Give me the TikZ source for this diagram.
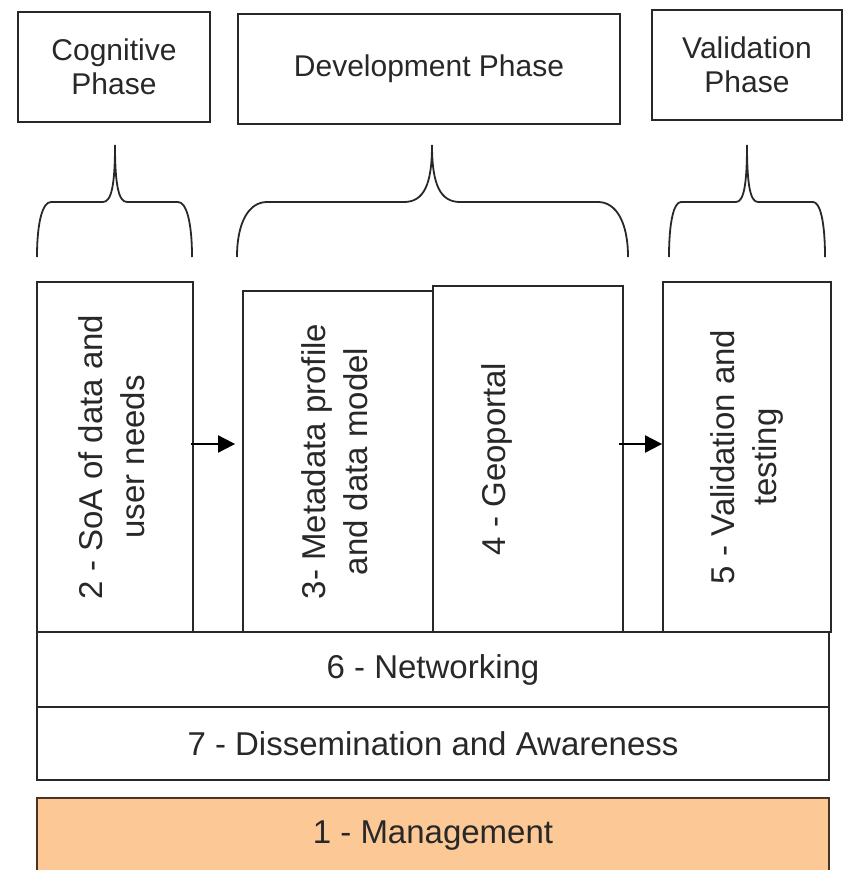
\documentclass[tikz,border=0pt]{standalone}
\usepackage{fontspec}
\usepackage{graphicx}
\setmainfont{Liberation Sans}
\usetikzlibrary{arrows.meta}

\definecolor{inkgray}{RGB}{40,40,40}
\definecolor{mgmtfill}{RGB}{251,200,150}
\definecolor{mgmtline}{RGB}{75,50,35}

\tikzstyle{phasebox}=[draw=inkgray,line width=1.8pt,text=inkgray,font=\fontsize{30}{34}\selectfont,align=center,minimum height=110pt,inner sep=0pt]
\tikzstyle{wpbox}=[draw=inkgray,line width=1.8pt,text=inkgray,font=\fontsize{33}{42}\selectfont,inner sep=0pt]
\tikzstyle{mgmtbox}=[wpbox,draw=mgmtline,fill=mgmtfill]
\tikzstyle{flow}=[draw=black,line width=2pt,-{Triangle[length=17pt,width=17pt]}]
\tikzstyle{bracket}=[draw=inkgray,line width=1.8pt]

% rotated two-line label
\newcommand{\vtext}[1]{\rotatebox{90}{\begin{tabular}{@{}c@{}}#1\end{tabular}}}
% left x, tip x, right x, corner, tip half width
\newcommand{\phasebrace}[5]{%
  \path[bracket] (#1,257) .. controls (#1,222) and ({#1+0.4*#4},202) .. ({#1+#4},202)
    -- ({#2-#5},202) .. controls ({#2-0.3*#5},202) and (#2,185) .. (#2,145)
    .. controls (#2,185) and ({#2+0.3*#5},202) .. ({#2+#5},202)
    -- ({#3-#4},202) .. controls ({#3-0.4*#4},202) and (#3,222) .. (#3,257);}

\begin{document}
\begin{tikzpicture}[x=1pt,y=-1pt]
    \useasboundingbox (0,0) rectangle (846,870);
    % the three phases
    \node[phasebox,minimum width=192pt] (cog) at (114,67) {Cognitive\\Phase};
    \node[phasebox,minimum width=382pt] (dev) at (429,69) {Development Phase};
    \node[phasebox,minimum width=190pt] (val) at (747,65) {Validation\\Phase};
    % braces under them
    \phasebrace{37}{115}{192}{14}{12}
    \phasebrace{237}{432}{628}{30}{28}
    \phasebrace{669}{747}{825}{12}{11}
    % work packages
    \node[wpbox,minimum width=156pt,minimum height=350pt] (wp2) at (115,457) {\vtext{2 - SoA of data and\\user needs}};
    \node[wpbox,minimum width=190pt,minimum height=341pt] (wp3) at (338,461.5) {\vtext{3- Metadata profile\\and data model}};
    \node[wpbox,minimum width=190pt,minimum height=346pt] (wp4) at (528,459) {\vtext{4 - Geoportal\\[20pt]~}};
    \node[wpbox,minimum width=168pt,minimum height=350pt] (wp5) at (747,457) {\vtext{5 - Validation and\\testing}};
    \node[wpbox,minimum width=792pt,minimum height=75pt] (wp6) at (433,669.5) {6 - Networking};
    \node[wpbox,minimum width=792pt,minimum height=73pt] (wp7) at (433,743.5) {7 - Dissemination and Awareness};
    \node[mgmtbox,minimum width=792pt,minimum height=76pt] (wp1) at (433,836) {1 - Management};
    % flow between the phases
    \coordinate (flowline) at (0,444);
    \draw[flow,shorten >=7pt,shorten <=-3pt] (wp2.east |- flowline) -- (wp3.west |- flowline);
    \draw[flow,shorten <=-5pt] (wp4.east |- flowline) -- (wp5.west |- flowline);
\end{tikzpicture}
\end{document}
